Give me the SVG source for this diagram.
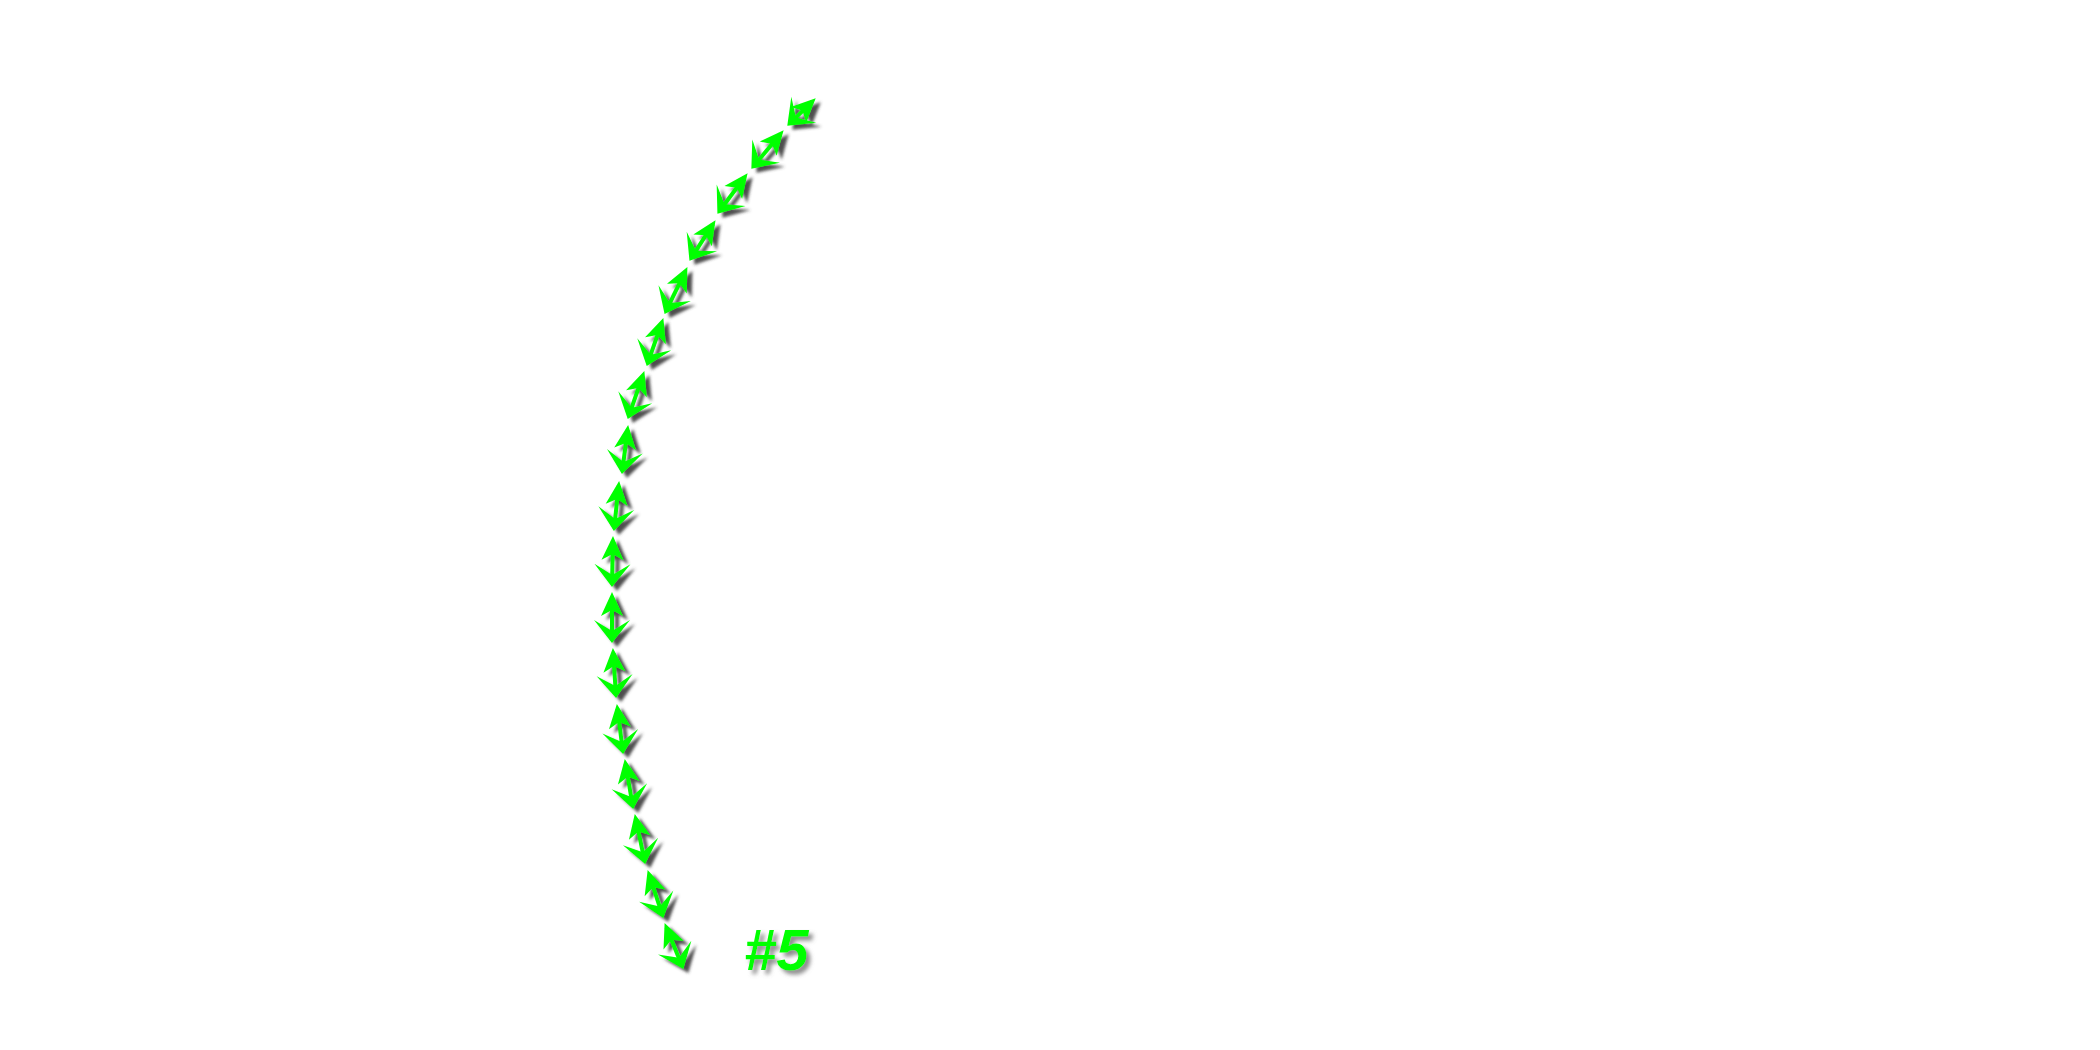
<svg xmlns="http://www.w3.org/2000/svg" width="2100" height="1050" viewBox="0 0 2100 1050">
  <style>
    .seg { stroke: #00ff00; stroke-width: 4; fill: none; marker-start: url(#headStart); marker-end: url(#headEnd); }
    .lbl { font-family: "Liberation Sans", Arial, sans-serif; font-weight: bold; font-style: italic; font-size: 58px; fill: #00ff00; }
  </style>
  <defs>
    <filter id="shadow" x="-50%" y="-50%" width="200%" height="200%">
      <feDropShadow dx="5" dy="4" stdDeviation="1.4" flood-color="#3a3a3a" flood-opacity="0.9"/>
    </filter>
    <filter id="textShadow" x="-50%" y="-50%" width="200%" height="200%">
      <feDropShadow dx="4" dy="4" stdDeviation="2" flood-color="#777777" flood-opacity="0.85"/>
    </filter>
    <marker id="headEnd" markerUnits="userSpaceOnUse" orient="auto" refX="0" refY="0" markerWidth="60" markerHeight="60" overflow="visible">
      <path d="M6,0 L-17,-18 L-6,0 L-17,18 Z" fill="#00ff00"/>
    </marker>
    <marker id="headStart" markerUnits="userSpaceOnUse" orient="auto-start-reverse" refX="0" refY="0" markerWidth="60" markerHeight="60" overflow="visible">
      <path d="M5,0 L-19,-11 L-13,0 L-19,11 Z" fill="#00ff00"/>
    </marker>
  </defs>
  <rect width="2100" height="1050" fill="#ffffff"/>
  <g id="connectors" filter="url(#shadow)">
    <line class="seg" x1="812.1" y1="101.8" x2="791.6" y2="121.6"/>
    <line class="seg" x1="780.4" y1="134.1" x2="755.2" y2="164.2"/>
    <line class="seg" x1="744.6" y1="177.2" x2="721" y2="209"/>
    <line class="seg" x1="712.8" y1="224.4" x2="692.7" y2="255.8"/>
    <line class="seg" x1="685.2" y1="271.6" x2="667.2" y2="308.5"/>
    <line class="seg" x1="661.7" y1="322.8" x2="648.7" y2="360.3"/>
    <line class="seg" x1="642.7" y1="375.8" x2="629.7" y2="413.3"/>
    <line class="seg" x1="627.5" y1="430" x2="622.7" y2="468"/>
    <line class="seg" x1="618.6" y1="486" x2="614.5" y2="525"/>
    <line class="seg" x1="612.9" y1="541" x2="612.1" y2="581"/>
    <line class="seg" x1="612" y1="597" x2="612" y2="637"/>
    <line class="seg" x1="613.2" y1="653" x2="615.7" y2="692"/>
    <line class="seg" x1="617.5" y1="709" x2="622.4" y2="748"/>
    <line class="seg" x1="625.6" y1="764" x2="632.2" y2="803"/>
    <line class="seg" x1="635.8" y1="818.9" x2="644" y2="858.1"/>
    <line class="seg" x1="649.2" y1="874.8" x2="661.5" y2="912.3"/>
    <line class="seg" x1="666.5" y1="927.7" x2="681.1" y2="963.4"/>
  </g>
  <g id="label-5" filter="url(#textShadow)">
    <text class="lbl" x="744" y="970">#5</text>
  </g>
</svg>
